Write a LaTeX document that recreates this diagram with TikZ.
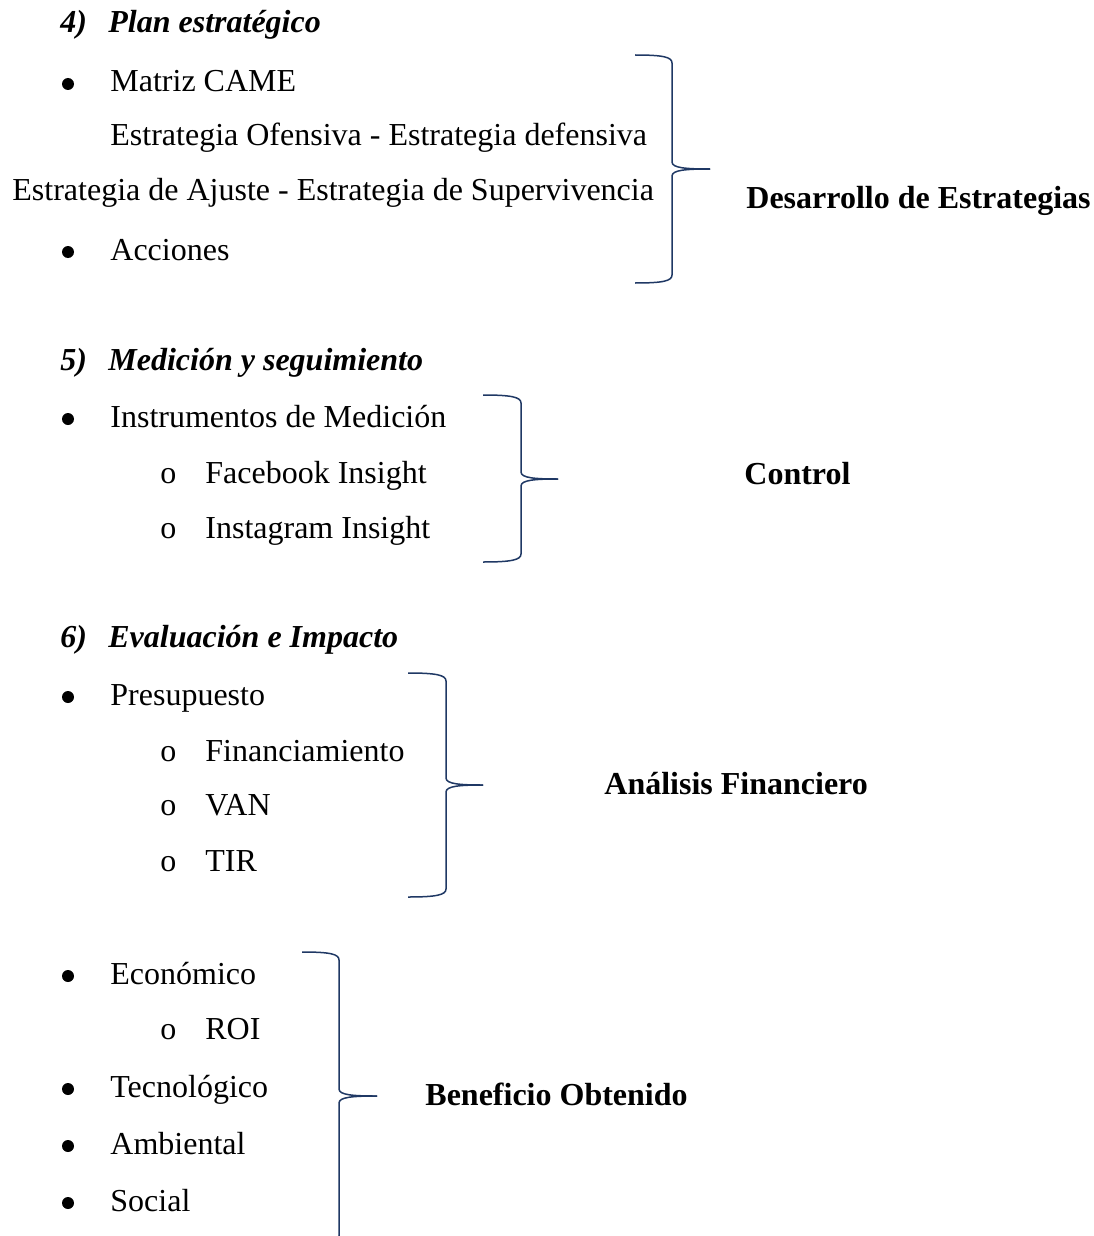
\documentclass[tikz,border=0pt]{standalone}
\usepackage{fontspec}
\setmainfont{Liberation Serif}
\definecolor{bracecol}{RGB}{31,56,100}
\tikzset{
  txt/.style={anchor=base west, inner sep=0pt, font=\fontsize{16pt}{19pt}\selectfont},
  head/.style={txt, font=\fontsize{16pt}{19pt}\selectfont\bfseries\itshape},
  lbl/.style={txt, font=\fontsize{16pt}{19pt}\selectfont\bfseries},
  dot/.style={circle, fill=black, inner sep=0pt, minimum size=6pt},
  brc/.style={draw=bracecol, line width=0.75pt}
}
% right curly brace: left ends at x=#1, spine at #2, tip at #3; top #4, middle #5, bottom #6
\newcommand\rightbrace[6]{%
  \draw[brc] (#1,#4) .. controls ({#1+28},#4) and (#2,{#4+2}) .. (#2,{#4+8})
    -- (#2,{#5-7}) .. controls (#2,{#5-1}) and ({#2+14},#5) .. (#3,#5);
  \draw[brc] (#3,#5) .. controls ({#2+14},#5) and (#2,{#5+1}) .. (#2,{#5+7})
    -- (#2,{#6-8}) .. controls (#2,{#6-2}) and ({#1+28},#6) .. (#1,#6);
}
\begin{document}
\begin{tikzpicture}[x=0.5pt,y=-0.5pt]
\useasboundingbox (0,0) rectangle (1093,1236);

% 4) Plan estrategico
\node[head] (n4) at (60,33) {4)};
\node[head] (h4) at (108,33) {Plan estratégico};
\node[dot] (b1) at (68,84) {};
\node[txt] (t1) at (110,92) {Matriz CAME};
\node[txt] (t2) at (110,146) {Estrategia Ofensiva - Estrategia defensiva};
\node[txt] (t3) at (12,200) {Estrategia de Ajuste - Estrategia de Supervivencia};
\node[dot] (b2) at (68,252) {};
\node[txt] (t4) at (110,260) {Acciones};
\rightbrace{635}{672}{710}{55}{169}{283}
\node[lbl] (l1) at (746,208) {Desarrollo de Estrategias};

% 5) Medicion y seguimiento
\node[head] (n5) at (60,370) {5)};
\node[head] (h5) at (108,370) {Medición y seguimiento};
\node[dot] (b3) at (68,419) {};
\node[txt] (t5) at (110,427) {Instrumentos de Medición};
\node[txt] (o1) at (160,483) {o};
\node[txt] (t6) at (205,483) {Facebook Insight};
\node[txt] (o2) at (160,538) {o};
\node[txt] (t7) at (205,538) {Instagram Insight};
\rightbrace{483}{521}{558}{395}{479}{562}
\node[lbl] (l2) at (744,484) {Control};

% 6) Evaluacion e Impacto
\node[head] (n6) at (60,647) {6)};
\node[head] (h6) at (108,647) {Evaluación e Impacto};
\node[dot] (b4) at (68,697) {};
\node[txt] (t8) at (110,705) {Presupuesto};
\node[txt] (o3) at (160,761) {o};
\node[txt] (t9) at (205,761) {Financiamiento};
\node[txt] (o4) at (160,815) {o};
\node[txt] (t10) at (205,815) {VAN};
\node[txt] (o5) at (160,871) {o};
\node[txt] (t11) at (205,871) {TIR};
\rightbrace{408}{446}{483}{673}{785}{897}
\node[lbl] (l3) at (604,794) {Análisis Financiero};

% Beneficios
\node[dot] (b5) at (68,976) {};
\node[txt] (t12) at (110,984) {Económico};
\node[txt] (o6) at (160,1039) {o};
\node[txt] (t13) at (205,1039) {ROI};
\node[dot] (b6) at (68,1089) {};
\node[txt] (t14) at (110,1097) {Tecnológico};
\node[dot] (b7) at (68,1146) {};
\node[txt] (t15) at (110,1154) {Ambiental};
\node[dot] (b8) at (68,1203) {};
\node[txt] (t16) at (110,1211) {Social};
\rightbrace{302}{339}{377}{952}{1096}{1244}
\node[lbl] (l4) at (425,1105) {Beneficio Obtenido};
\end{tikzpicture}
\end{document}
